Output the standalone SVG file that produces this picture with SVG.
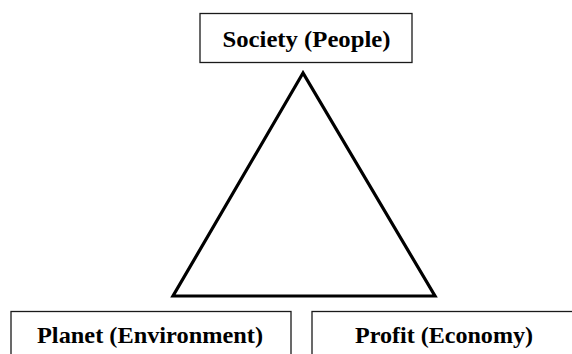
<svg xmlns="http://www.w3.org/2000/svg" width="572" height="354" viewBox="0 0 572 354">
  <style>
    .box { fill: #ffffff; stroke: #1a1a1a; stroke-width: 1.3; }
    .label { font-weight: bold; font-size: 24px; fill: #000000; text-anchor: middle; }
    .tri { fill: none; stroke: #000000; stroke-width: 3.2; stroke-linejoin: miter; }
  </style>
  <rect x="0" y="0" width="572" height="354" fill="#ffffff"/>

  <!-- triangle linking the three pillars -->
  <g id="connectors">
    <polygon class="tri" points="303,73 173,296 435,296"/>
  </g>

  <g id="society">
    <rect class="box" x="200" y="13.5" width="212" height="49"/>
    <text class="label" font-family="Liberation Serif, DejaVu Serif, serif" x="306.5" y="47" textLength="168" lengthAdjust="spacingAndGlyphs">Society (People)</text>
  </g>

  <g id="planet">
    <rect class="box" x="11" y="311.5" width="280" height="60"/>
    <text class="label" font-family="Liberation Serif, DejaVu Serif, serif" x="150" y="343" textLength="226" lengthAdjust="spacingAndGlyphs">Planet (Environment)</text>
  </g>

  <g id="profit">
    <rect class="box" x="312" y="311.5" width="266" height="60"/>
    <text class="label" font-family="Liberation Serif, DejaVu Serif, serif" x="444" y="343" textLength="178" lengthAdjust="spacingAndGlyphs">Profit (Economy)</text>
  </g>
</svg>
